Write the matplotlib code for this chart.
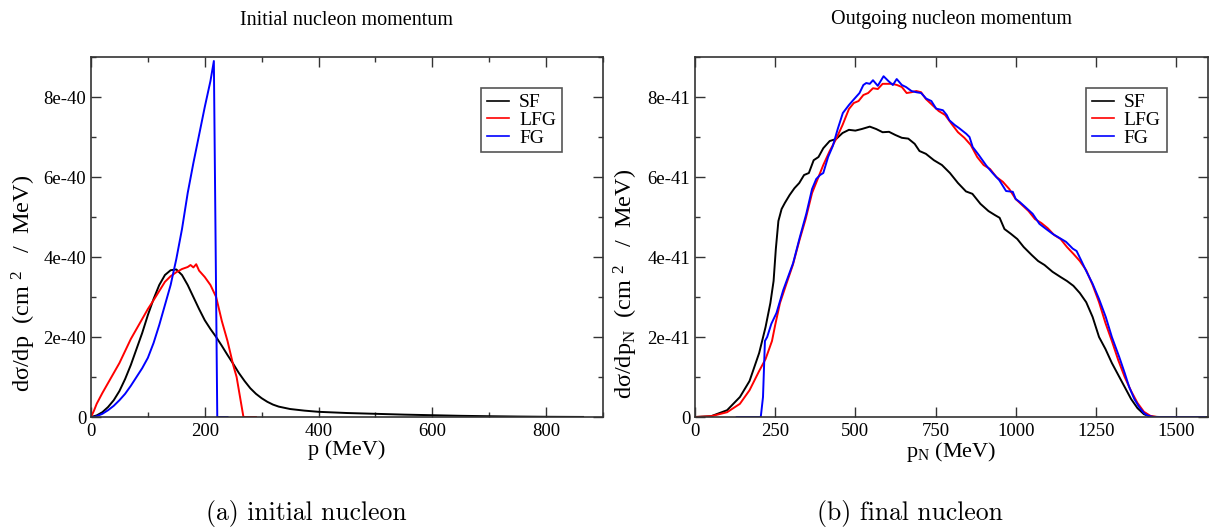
import matplotlib
matplotlib.use('Agg')
import matplotlib.pyplot as plt
from matplotlib.ticker import MultipleLocator, FuncFormatter, NullLocator

# ---- data: initial nucleon momentum (values in units of 1e-40 cm^2/MeV)
p_sf_a = [0, 10, 20, 30, 40, 50, 60, 70, 80, 90, 100, 110, 120, 130, 140, 150, 160, 170, 180, 190,
          200, 210, 220, 230, 240, 250, 260, 270, 280, 290, 300, 310, 320, 330, 350, 375, 400, 450,
          500, 550, 600, 650, 700, 750, 800, 865]
sf_a = [0, 0.04, 0.12, 0.25, 0.42, 0.65, 0.95, 1.3, 1.7, 2.1, 2.55, 2.95, 3.3, 3.55, 3.67, 3.69, 3.55,
        3.3, 3.0, 2.7, 2.42, 2.2, 2.0, 1.78, 1.55, 1.33, 1.1, 0.9, 0.72, 0.58, 0.47, 0.38, 0.31, 0.26,
        0.2, 0.16, 0.13, 0.1, 0.08, 0.06, 0.045, 0.03, 0.02, 0.012, 0.006, 0.002]

p_lfg_a = [0, 5, 10, 20, 30, 40, 50, 60, 70, 80, 90, 100, 110, 120, 130, 140, 150, 160, 170, 175,
           180, 185, 190, 200, 210, 220, 230, 240, 250, 256, 262, 268, 290]
lfg_a = [0, 0.15, 0.33, 0.6, 0.85, 1.1, 1.35, 1.65, 1.95, 2.2, 2.45, 2.7, 2.92, 3.15, 3.38, 3.52, 3.62,
         3.7, 3.75, 3.8, 3.74, 3.82, 3.66, 3.5, 3.3, 3.0, 2.4, 1.9, 1.3, 1.0, 0.5, 0.0, 0.0]

p_fg_a = [0, 5, 10, 20, 30, 40, 50, 60, 70, 80, 90, 100, 110, 120, 130, 140, 150, 160, 170, 180,
          190, 200, 210, 216, 222, 240]
fg_a = [0, 0.0, 0.02, 0.08, 0.17, 0.28, 0.42, 0.58, 0.78, 1.0, 1.22, 1.48, 1.85, 2.3, 2.8, 3.3, 3.95,
        4.7, 5.6, 6.35, 7.05, 7.75, 8.4, 8.9, 0.0, 0.0]

# ---- data: outgoing nucleon momentum (values in units of 1e-41 cm^2/MeV)
p_sf_b = [0, 50, 100, 140, 170, 200, 220, 235, 245, 252, 260, 270, 280, 295, 310, 325, 340, 355, 370,
          385, 400, 420, 440, 460, 480, 500, 520, 545, 565, 585, 605, 625, 645, 665, 685, 700, 720,
          745, 770, 795, 820, 845, 865, 890, 915, 935, 950, 965, 985, 1005, 1025, 1050, 1070, 1090,
          1115, 1140, 1160, 1180, 1200, 1220, 1240, 1260, 1280, 1300, 1320, 1340, 1360, 1380, 1400,
          1420, 1450, 1600]
sf_b = [0, 0.02, 0.17, 0.5, 0.9, 1.6, 2.25, 2.85, 3.4, 4.2, 4.9, 5.2, 5.35, 5.55, 5.72, 5.85, 6.05,
        6.1, 6.42, 6.5, 6.72, 6.9, 6.95, 7.1, 7.18, 7.16, 7.2, 7.26, 7.2, 7.12, 7.13, 7.05, 6.98, 6.96,
        6.83, 6.65, 6.58, 6.42, 6.3, 6.1, 5.85, 5.64, 5.58, 5.33, 5.15, 5.05, 4.98, 4.7, 4.58, 4.45,
        4.25, 4.05, 3.9, 3.8, 3.63, 3.5, 3.4, 3.28, 3.1, 2.87, 2.5, 2.0, 1.7, 1.35, 1.05, 0.75, 0.45,
        0.22, 0.07, 0.01, 0, 0]

p_lfg_b = [0, 50, 100, 140, 170, 200, 220, 240, 250, 265, 285, 305, 325, 345, 365, 385, 400, 420, 440,
           460, 480, 495, 510, 525, 540, 555, 570, 585, 600, 615, 630, 645, 660, 675, 690, 705, 720,
           740, 760, 780, 800, 820, 840, 860, 880, 900, 920, 940, 960, 980, 1000, 1020, 1040, 1060,
           1080, 1100, 1120, 1140, 1160, 1180, 1200, 1220, 1240, 1260, 1280, 1300, 1320, 1340, 1360,
           1380, 1400, 1420, 1440, 1560]
lfg_b = [0, 0.02, 0.12, 0.33, 0.67, 1.15, 1.45, 1.9, 2.3, 2.85, 3.33, 3.8, 4.4, 4.95, 5.6, 6.0, 6.3,
         6.65, 6.95, 7.3, 7.7, 7.85, 7.9, 8.05, 8.1, 8.22, 8.2, 8.33, 8.33, 8.33, 8.3, 8.25, 8.1, 8.12,
         8.15, 8.12, 7.95, 7.8, 7.65, 7.55, 7.33, 7.12, 6.98, 6.8, 6.5, 6.3, 6.2, 6.0, 5.88, 5.7, 5.45,
         5.3, 5.15, 4.95, 4.85, 4.72, 4.55, 4.45, 4.25, 4.08, 3.9, 3.67, 3.3, 2.87, 2.35, 1.9, 1.42,
         1.0, 0.65, 0.35, 0.13, 0.03, 0, 0]

p_fg_b = [130, 205, 212, 218, 225, 238, 254, 275, 290, 306, 327, 347, 365, 378, 390, 400, 415, 430, 445,
          461, 480, 493, 513, 525, 534, 545, 555, 570, 588, 603, 617, 629, 645, 658, 675, 690, 705,
          721, 737, 752, 773, 785, 793, 810, 824, 846, 856, 866, 885, 908, 928, 949, 970, 991, 1000,
          1012, 1030, 1053, 1074, 1095, 1115, 1136, 1157, 1178, 1190, 1204, 1220, 1240, 1260, 1281,
          1300, 1323, 1340, 1354, 1370, 1385, 1400, 1411, 1430, 1590]
fg_b = [0, 0, 0.5, 1.9, 2.0, 2.33, 2.6, 3.17, 3.5, 3.85, 4.5, 5.08, 5.7, 5.95, 6.05, 6.1, 6.5, 6.78,
        7.2, 7.6, 7.8, 7.92, 8.1, 8.3, 8.35, 8.33, 8.42, 8.28, 8.52, 8.4, 8.3, 8.45, 8.3, 8.25, 8.15,
        8.12, 8.1, 7.96, 7.9, 7.71, 7.67, 7.55, 7.42, 7.3, 7.22, 7.08, 7.0, 6.75, 6.55, 6.29, 6.1,
        5.92, 5.65, 5.63, 5.45, 5.38, 5.25, 5.08, 4.83, 4.7, 4.58, 4.48, 4.38, 4.21, 4.15, 3.92, 3.65,
        3.33, 2.95, 2.5, 2.0, 1.5, 1.1, 0.75, 0.45, 0.25, 0.1, 0.04, 0, 0]

labels = ['SF', 'LFG', 'FG']
colors = ['black', '#ff0000', '#0000ff']

plt.rcParams['font.family'] = ['Liberation Serif', 'DejaVu Serif']
plt.rcParams['mathtext.fontset'] = 'custom'
plt.rcParams['mathtext.rm'] = 'Liberation Serif'
plt.rcParams['mathtext.it'] = 'Liberation Serif:italic'

fig = plt.figure(figsize=(12.1, 5.27), dpi=100)


def fmt(v, pos):
    if abs(v) < 1e-60:
        return '0'
    return '%.0e' % v


def style_axes(ax, xmax, xmajor, xminor, yscale):
    ax.set_xlim(0, xmax)
    ax.set_ylim(0, 9 * yscale)
    ax.xaxis.set_major_locator(MultipleLocator(xmajor))
    if xminor:
        ax.xaxis.set_minor_locator(MultipleLocator(xminor))
    else:
        ax.xaxis.set_minor_locator(NullLocator())
    ax.yaxis.set_major_locator(MultipleLocator(2 * yscale))
    ax.yaxis.set_minor_locator(MultipleLocator(yscale))
    ax.yaxis.set_major_formatter(FuncFormatter(fmt))
    ax.tick_params(which='both', direction='in', top=True, right=True, colors='#333333',
                   labelcolor='black', labelsize=13.5)
    ax.tick_params(which='major', length=7.2, width=1)
    ax.tick_params(which='minor', length=3.6, width=1)
    ax.tick_params(axis='x', pad=4)
    ax.tick_params(axis='y', pad=3.5)
    for s in ax.spines.values():
        s.set_color('#333333')
        s.set_linewidth(1.2)


# (a) initial nucleon
ax1 = fig.add_axes([0.0752, 0.2087, 0.4231, 0.6831])
for x, y, lab, c in zip([p_sf_a, p_lfg_a, p_fg_a], [sf_a, lfg_a, fg_a], labels, colors):
    ax1.plot(x, [v * 1e-40 for v in y], color=c, lw=1.4, label=lab)
style_axes(ax1, 900, 200, 100, 1e-40)
ax1.set_xlabel('p (MeV)', fontsize=16)
# the original label is set with wide gaps around the exponent
ax1.set_ylabel('dσ/dp  (cm $^{2}$   /  MeV)', fontsize=17.5)
ax1.xaxis.set_label_coords(0.5, -0.064)
ax1.yaxis.set_label_coords(-0.104, 0.37)
ax1.set_title('Initial nucleon momentum', fontsize=14.5, pad=23)

# (b) final nucleon
ax2 = fig.add_axes([0.5744, 0.2087, 0.424, 0.6831])
for x, y, lab, c in zip([p_sf_b, p_lfg_b, p_fg_b], [sf_b, lfg_b, fg_b], labels, colors):
    ax2.plot(x, [v * 1e-41 for v in y], color=c, lw=1.4, label=lab)
style_axes(ax2, 1600, 250, None, 1e-41)
ax2.set_xlabel('p$_{\\mathrm{N}}$ (MeV)', fontsize=16)
ax2.set_ylabel('dσ/dp$_{\\mathrm{N}}$  (cm $^{2}$   /  MeV)', fontsize=17.5)
ax2.xaxis.set_label_coords(0.5, -0.064)
ax2.yaxis.set_label_coords(-0.108, 0.37)
ax2.set_title('Outgoing nucleon momentum', fontsize=14.5, pad=24)

for ax in (ax1, ax2):
    leg = ax.legend(loc='upper left', bbox_to_anchor=(0.762, 0.914), fontsize=14, frameon=True,
                    fancybox=False, framealpha=1, edgecolor='#555555', handlelength=1.15,
                    handletextpad=0.5, labelspacing=0.0, borderpad=0.3, borderaxespad=0)
    leg.get_frame().set_linewidth(1.2)
    for h in leg.get_lines():
        h.set_linewidth(1.2)

# sub captions
fig.text(0.253, 0.025, '(a) initial nucleon', fontsize=18.5, family='cmr10', ha='center', va='center')
fig.text(0.752, 0.025, '(b) final nucleon', fontsize=18.5, family='cmr10', ha='center', va='center')

plt.savefig('out.png', dpi=100)
